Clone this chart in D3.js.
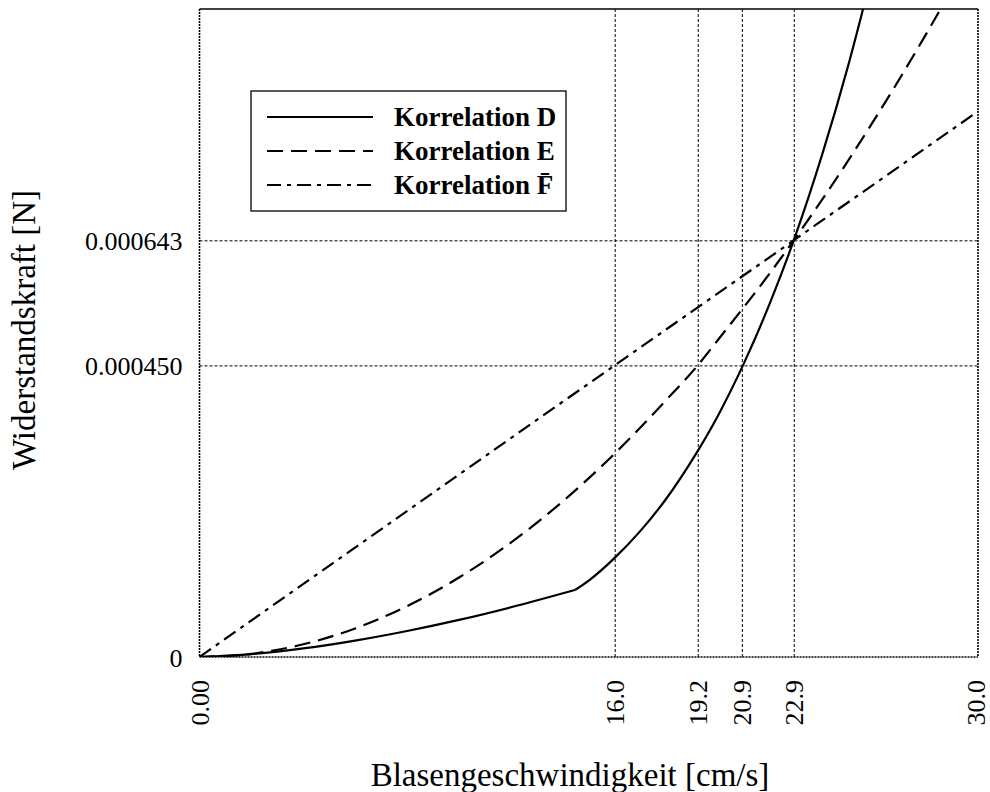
<!DOCTYPE html>
<html>
<head>
<meta charset="utf-8">
<script src="https://cdn.jsdelivr.net/npm/d3@7"></script>
<style>
  body { margin: 0; background: #fff; }
  svg { display: block; font-family: "Liberation Serif", "Times New Roman", serif; }
</style>
</head>
<body>
<svg id="chart" width="990" height="792"></svg>
<script>
// tick positions and labels
var xTicks = [0, 16.0, 19.2, 20.9, 22.9, 30.0];
var xTickLabels = ['0.00', '16.0', '19.2', '20.9', '22.9', '30.0'];
var yTicks = [0, 0.000450, 0.000643];
var yTickLabels = ['0', '0.000450', '0.000643'];

// Korrelation D (kink at about 14.5 cm/s)
var speedDLow = [0, 2, 4, 6, 8, 10, 12, 14.47];
var forceDLow = [0, 4.4e-6, 1.32e-5, 2.53e-5, 4.01e-5, 5.72e-5, 7.67e-5, 1.034e-4];
var speedDHigh = [14.47, 15, 16, 17, 18, 19, 20, 21, 22, 22.9, 24, 25, 26];
var forceDHigh = [1.034e-4, 1.18e-4, 1.53e-4, 1.95e-4, 2.45e-4, 3.05e-4, 3.74e-4, 4.55e-4, 5.48e-4, 6.43e-4, 7.76e-4, 9.13e-4, 1.068e-3];

// Korrelation E
var speedE = [0, 2, 4, 6, 8, 10, 12, 14, 16, 18, 19.2, 20, 22, 22.9, 24, 26, 28, 29];
var forceE = [0, 4.9e-6, 1.96e-5, 4.41e-5, 7.85e-5, 1.226e-4, 1.765e-4, 2.403e-4, 3.139e-4, 3.972e-4, 4.5e-4, 4.904e-4, 5.934e-4, 6.43e-4, 7.062e-4, 8.288e-4, 9.612e-4, 1.031e-3];

// Korrelation F
var speedF = [0, 16, 22.9, 30];
var forceF = [0, 4.5e-4, 6.43e-4, 8.42e-4];

var legendNames = ['Korrelation D', 'Korrelation E', 'Korrelation F\u0304'];
var legendDashes = [null, '16,8', '14,6,4,6'];

var margin = {left: 199.5, top: 9, right: 978, bottom: 657};
var svg = d3.select('#chart');

var xScale = d3.scaleLinear().domain([0, 30]).range([margin.left, margin.right]);
var yScale = d3.scaleLinear().domain([0, 0.001]).range([margin.bottom, margin.top]);

var zip = (xs, ys) => xs.map((x, i) => ({x: x, y: ys[i]}));

// grid lines through the axis generators
var gridX = d3.axisBottom(xScale)
  .tickValues(xTicks.filter((t) => t > 0 && t < 30))
  .tickSize(-(margin.bottom - margin.top))
  .tickFormat('');
svg.append('g')
  .attr('transform', 'translate(0,' + margin.bottom + ')')
  .call(gridX)
  .call((g) => g.select('.domain').remove())
  .selectAll('line')
  .attr('stroke', '#000')
  .attr('stroke-width', 1)
  .attr('stroke-dasharray', '3,2');

var gridY = d3.axisLeft(yScale)
  .tickValues(yTicks.filter((t) => t > 0))
  .tickSize(-(margin.right - margin.left))
  .tickFormat('');
svg.append('g')
  .attr('transform', 'translate(' + margin.left + ',0)')
  .call(gridY)
  .call((g) => g.select('.domain').remove())
  .selectAll('line')
  .attr('stroke', '#000')
  .attr('stroke-width', 1)
  .attr('stroke-dasharray', '3,2');

// tick labels (last one nudged left so it stays inside the page)
var xAxis = d3.axisBottom(xScale)
  .tickValues(xTicks)
  .tickSize(0)
  .tickFormat((d, i) => xTickLabels[i]);
svg.append('g')
  .attr('transform', 'translate(0,' + margin.bottom + ')')
  .call(xAxis)
  .call((g) => g.select('.domain').remove())
  .selectAll('text')
  .attr('font-family', '"Liberation Serif", serif')
  .attr('font-size', 26)
  .attr('fill', '#000')
  .attr('text-anchor', 'end')
  .attr('x', 0)
  .attr('y', 0)
  .attr('dy', 0)
  .attr('transform', (d) => 'translate(' + (d === 30 ? 6 : 9) + ',23) rotate(-90)');

var yAxis = d3.axisLeft(yScale)
  .tickValues(yTicks)
  .tickSize(0)
  .tickPadding(17)
  .tickFormat((d, i) => yTickLabels[i]);
svg.append('g')
  .attr('transform', 'translate(' + margin.left + ',0)')
  .call(yAxis)
  .call((g) => g.select('.domain').remove())
  .selectAll('text')
  .attr('font-family', '"Liberation Serif", serif')
  .attr('font-size', 26)
  .attr('fill', '#000')
  .attr('dy', '0.35em');

// frame
var frame = svg.append('g').attr('stroke', '#000').attr('fill', 'none');
frame.append('line')
  .attr('x1', margin.left).attr('x2', margin.right)
  .attr('y1', margin.top).attr('y2', margin.top)
  .attr('stroke-width', 1.3);
[[margin.left, margin.top, margin.left, margin.bottom],
 [margin.right, margin.top, margin.right, margin.bottom],
 [margin.left, margin.bottom, margin.right, margin.bottom]].forEach(function(p) {
  frame.append('line')
    .attr('x1', p[0]).attr('y1', p[1]).attr('x2', p[2]).attr('y2', p[3])
    .attr('stroke-width', 1.6)
    .attr('stroke-dasharray', '2,1');
});

// curves
svg.append('clipPath').attr('id', 'plot-clip')
  .append('rect')
  .attr('x', margin.left).attr('y', margin.top)
  .attr('width', margin.right - margin.left)
  .attr('height', margin.bottom - margin.top);

var line = d3.line()
  .x((d) => xScale(d.x))
  .y((d) => yScale(d.y))
  .curve(d3.curveMonotoneX);

var curves = [
  {pts: zip(speedDLow, forceDLow), dash: null},
  {pts: zip(speedDHigh, forceDHigh), dash: null},
  {pts: zip(speedE, forceE), dash: legendDashes[1]},
  {pts: zip(speedF, forceF), dash: legendDashes[2]}
];

svg.append('g')
  .attr('clip-path', 'url(#plot-clip)')
  .selectAll('path')
  .data(curves)
  .enter().append('path')
  .attr('d', (d) => line(d.pts))
  .attr('fill', 'none')
  .attr('stroke', '#000')
  .attr('stroke-width', 2.2)
  .attr('stroke-dasharray', (d) => d.dash);

// legend
var legend = svg.append('g');
legend.append('rect')
  .attr('x', 251).attr('y', 91)
  .attr('width', 315).attr('height', 120)
  .attr('fill', '#fff')
  .attr('stroke', '#000')
  .attr('stroke-width', 1.3);

var rowY = [117, 151, 185];
var rows = legend.selectAll('g.row')
  .data(legendNames)
  .enter().append('g')
  .attr('class', 'row')
  .attr('transform', (d, i) => 'translate(0,' + rowY[i] + ')');

rows.append('line')
  .attr('x1', 267).attr('x2', 373)
  .attr('stroke', '#000')
  .attr('stroke-width', 2.2)
  .attr('stroke-dasharray', (d, i) => legendDashes[i]);

rows.append('text')
  .attr('x', 394)
  .attr('y', 9)
  .attr('font-size', 27)
  .attr('font-weight', 'bold')
  .text((d) => d);

// axis titles
svg.append('text')
  .attr('x', 570)
  .attr('y', 786)
  .attr('text-anchor', 'middle')
  .attr('font-size', 33)
  .text('Blasengeschwindigkeit [cm/s]');

svg.append('text')
  .attr('transform', 'translate(35,330) rotate(-90)')
  .attr('text-anchor', 'middle')
  .attr('font-size', 33)
  .text('Widerstandskraft [N]');
</script>
</body>
</html>
